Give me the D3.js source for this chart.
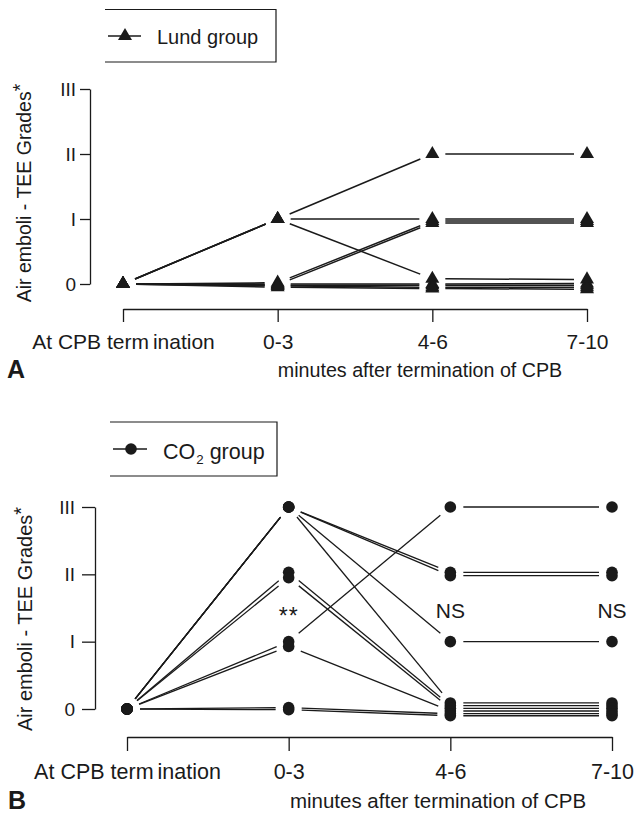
<!DOCTYPE html>
<html><head><meta charset="utf-8">
<script src="https://cdn.jsdelivr.net/npm/d3@7"></script>
<style>body{margin:0;background:#fff}</style>
</head><body>
<svg id="c" width="634" height="814"></svg>
<script>
// ---------- data ----------
const categories = ["At CPB termination", "0-3", "4-6", "7-10"];
const gradeValues = [0, 1, 2, 3];
const gradeLabels = ["0", "I", "II", "III"];
const xTitle = "minutes after termination of CPB";
const yTitle = "Air emboli - TEE Grades";
const lundLegend = "Lund group";
const co2Legend = ["CO", "2", " group"];

// Lund group: one row per patient, grade at each time point (slight offsets as drawn)
const lundValues = [
  [0, 1.00, 2.00, 2.00],
  [0, 1.00, 1.00, 1.00],
  [0, 1.00, 0.08, 0.07],
  [0, 0.02, 0.97, 0.97],
  [0, -0.01, 0.94, 0.94],
  [0, 0.00, 0.00, 0.01],
  [0, -0.02, -0.02, -0.02],
  [0, -0.03, -0.05, -0.05],
  [0, -0.05, -0.07, -0.08]
];
// CO2 group
const co2Values = [
  [0, 3.00, 2.03, 2.03],
  [0, 3.00, 1.98, 1.98],
  [0, 3.00, 1.00, 1.00],
  [0, 3.00, 0.09, 0.09],
  [0, 2.03, 0.05, 0.05],
  [0, 1.95, 0.01, 0.01],
  [0, 1.00, 3.00, 3.00],
  [0, 0.93, -0.03, -0.03],
  [0, 0.02, -0.07, -0.07],
  [0, -0.01, -0.10, -0.10]
];
const co2Notes = [
  {cat: "0-3", text: "**", grade: 1.44},
  {cat: "4-6", text: "NS", grade: 1.47},
  {cat: "7-10", text: "NS", grade: 1.47}
];

// ---------- drawing ----------
const svg = d3.select("#c");
const FONT = "'Liberation Sans', Arial, Helvetica, sans-serif";
const INK = "#1a1a1a";

function shorten(a, b, gap) {
  const dx = b[0] - a[0], dy = b[1] - a[1], L = Math.hypot(dx, dy);
  const ux = dx / L, uy = dy / L;
  return [a[0] + ux * gap, a[1] + uy * gap, b[0] - ux * gap, b[1] - uy * gap];
}

function drawPanel(p) {
  const g = svg.append("g");
  const x = d3.scalePoint().domain(categories).range(p.xRange);
  const y = d3.scaleLinear().domain([0, 3]).range(p.yRange);

  const marker = (sel) => {
    if (p.marker === "triangle") {
      sel.append("path").attr("d", d3.symbol().type(d3.symbolTriangle).size(85)())
        .attr("fill", INK);
    } else {
      sel.append("circle").attr("r", 5.8).attr("fill", INK);
    }
  };

  // legend
  const L = p.legend;
  g.append("path")
    .attr("d", `M${L.x0},${L.y0}H${L.x1}V${L.y1}H${L.x0}`)
    .attr("fill", "none").attr("stroke", INK).attr("stroke-width", 1.2);
  g.append("line").attr("x1", L.lx0).attr("x2", L.lx1).attr("y1", L.ly).attr("y2", L.ly)
    .attr("stroke", INK).attr("stroke-width", 1.4);
  marker(g.append("g").attr("transform", `translate(${L.mx},${L.ly})`));
  const lt = g.append("text").attr("x", L.tx).attr("y", L.ty)
    .attr("font-family", FONT).attr("font-size", L.fs).attr("fill", INK);
  if (Array.isArray(p.legendText)) {
    lt.append("tspan").text(p.legendText[0]);
    lt.append("tspan").attr("font-size", L.fs * 0.62).attr("dy", 5).attr("dx", 1).text(p.legendText[1]);
    lt.append("tspan").attr("dy", -5).text(p.legendText[2]);
  } else {
    lt.text(p.legendText);
  }

  // y axis
  const ya = g.append("g").attr("transform", `translate(${p.yAxisX},0)`)
    .call(d3.axisLeft(y).tickValues(gradeValues).tickFormat((d, i) => gradeLabels[i])
      .tickSizeInner(p.yTick).tickSizeOuter(0).tickPadding(p.yPad));
  ya.selectAll("path,line").attr("stroke", INK).attr("stroke-width", 1.3);
  ya.selectAll("text").attr("font-family", FONT).attr("font-size", 19).attr("fill", INK);

  // y title
  const yt = g.append("text")
    .attr("transform", `translate(${p.yTitleX},${p.yTitleC}) rotate(-90)`)
    .attr("text-anchor", "middle").attr("font-family", FONT)
    .attr("font-size", p.yTitleFs).attr("fill", INK);
  yt.append("tspan").text(yTitle);
  yt.append("tspan").attr("dy", -4).text("*");

  // x axis (bracket)
  const xa = g.append("g").attr("transform", `translate(0,${p.xAxisY})`)
    .call(d3.axisBottom(x).tickSizeInner(p.xTick).tickSizeOuter(0));
  xa.selectAll("path,line").attr("stroke", INK).attr("stroke-width", 1.3);
  xa.selectAll("text").attr("font-family", FONT).attr("font-size", p.tickFs)
    .attr("fill", INK).attr("dy", null).attr("y", p.labelBase - p.xAxisY)
    .each(function (d) {
      if (d === categories[0]) {
        const t = d3.select(this);
        t.text(null);
        t.append("tspan").text("At CPB term");
        t.append("tspan").attr("dx", 4).text("ination");
      }
    });

  // x title and panel letter
  g.append("text").attr("x", p.xTitleX).attr("y", p.xTitleY).attr("text-anchor", "middle")
    .attr("font-family", FONT).attr("font-size", p.xTitleFs).attr("fill", INK).text(xTitle);
  g.append("text").attr("x", p.letterX).attr("y", p.xTitleY + 1)
    .attr("font-family", FONT).attr("font-size", 25).attr("font-weight", "bold")
    .attr("fill", INK).text(p.letter);

  // lines between time points (stop short of markers)
  const segs = [];
  p.data.forEach(row => {
    for (let i = 0; i < row.length - 1; i++) {
      const a = [x(categories[i]), y(row[i])], b = [x(categories[i + 1]), y(row[i + 1])];
      segs.push(shorten(a, b, 13));
    }
  });
  g.append("g").selectAll("line").data(segs).join("line")
    .attr("x1", d => d[0]).attr("y1", d => d[1]).attr("x2", d => d[2]).attr("y2", d => d[3])
    .attr("stroke", INK).attr("stroke-width", p.lineW);

  // markers
  const pts = [];
  p.data.forEach(row => row.forEach((v, i) => pts.push([x(categories[i]), y(v)])));
  g.append("g").selectAll("g").data(pts).join("g")
    .attr("transform", d => `translate(${d[0]},${d[1]})`)
    .each(function () { marker(d3.select(this)); });

  // annotations
  if (p.notes) {
    g.selectAll("text.note").data(p.notes).join("text").attr("class", "note")
      .attr("x", d => x(d.cat)).attr("y", d => y(d.grade) + (d.text === "**" ? 12 : 8))
      .attr("text-anchor", "middle").attr("font-family", FONT)
      .attr("font-size", d => d.text === "**" ? 23 : 21)
      .attr("letter-spacing", d => d.text === "**" ? 1 : 0)
      .attr("fill", INK).text(d => d.text);
  }
}

drawPanel({
  data: lundValues, marker: "triangle", letter: "A", legendText: lundLegend,
  legend: {x0: 105, x1: 276, y0: 9.5, y1: 62, lx0: 108, lx1: 141, ly: 36, mx: 125, tx: 157, ty: 44, fs: 20},
  xRange: [123, 587], yRange: [284, 89],
  yAxisX: 90, yTick: 10, yPad: 4,
  yTitleX: 31, yTitleC: 193, yTitleFs: 19.5,
  xAxisY: 309, xTick: 13, labelBase: 349, tickFs: 21,
  xTitleX: 420, xTitleY: 377, xTitleFs: 19.7, letterX: 7, lineW: 1.5
});

drawPanel({
  data: co2Values, marker: "dot", letter: "B", legendText: co2Legend, notes: co2Notes,
  legend: {x0: 110, x1: 277, y0: 422, y1: 476, lx0: 113, lx1: 147, ly: 449, mx: 131, tx: 163, ty: 459, fs: 21.5},
  xRange: [127, 612], yRange: [709, 507],
  yAxisX: 95, yTick: 13, yPad: 7,
  yTitleX: 32, yTitleC: 619, yTitleFs: 20,
  xAxisY: 737, xTick: 14, labelBase: 779, tickFs: 21.5,
  xTitleX: 438, xTitleY: 808, xTitleFs: 20.5, letterX: 8, lineW: 1.3
});
</script>
</body></html>
